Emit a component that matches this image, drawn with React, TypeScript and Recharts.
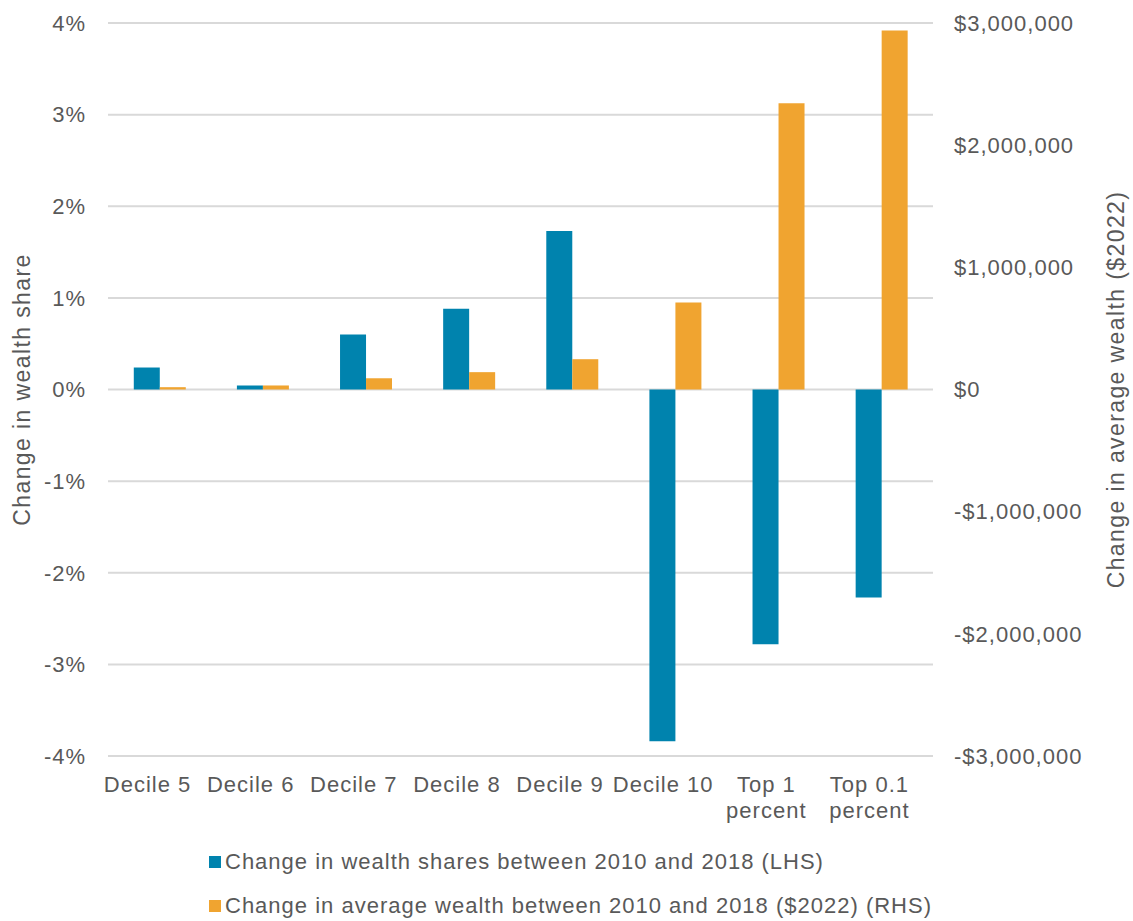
import React from "react";
import { ComposedChart, Bar, XAxis, YAxis, CartesianGrid } from "recharts";

const categories = ["Decile 5", "Decile 6", "Decile 7", "Decile 8", "Decile 9", "Decile 10", "Top 1 percent", "Top 0.1 percent"];
const shareChange = [0.24, 0.045, 0.6, 0.88, 1.73, -3.84, -2.78, -2.27];
const avgWealthChange = [19000, 33000, 92000, 142000, 248000, 712000, 2344000, 2939000];
const leftTicks = [-4, -3, -2, -1, 0, 1, 2, 3, 4];
const rightTicks = [-3000000, -2000000, -1000000, 0, 1000000, 2000000, 3000000];

const seriesNames = [
  "Change in wealth shares between 2010 and 2018 (LHS)",
  "Change in average wealth between 2010 and 2018 ($2022) (RHS)",
];
const leftTitle = "Change in wealth share";
const rightTitle = "Change in average wealth ($2022)";

const BLUE = "#0083ae";
const ORANGE = "#f0a430";
const TEXT = "#595959";
const FONT = "'Liberation Sans', Arial, sans-serif";
const FS = 22;
const LS = 1;

const data = categories.map((c, i) => ({ name: c, share: shareChange[i], wealth: avgWealthChange[i] }));

const fmtMoney = (v: number) => {
  const s = "$" + Math.abs(v).toLocaleString("en-US");
  return v < 0 ? "-" + s : s;
};

const splitLabel = (s: string): string[] => {
  if (s.length <= 10) return [s];
  const i = s.lastIndexOf(" ");
  return [s.slice(0, i), s.slice(i + 1)];
};

const XTick = (props: any) => {
  const { x, y, payload } = props;
  const lines = splitLabel(String(payload.value));
  const tx = x - 12;
  return (
    <text x={tx} y={y} textAnchor="middle" fill={TEXT} fontSize={FS} fontFamily={FONT} letterSpacing={LS}>
      {lines.map((l, i) => (
        <tspan key={i} x={tx} y={y + 34 + i * 26}>
          {l}
        </tspan>
      ))}
    </text>
  );
};

const YLabel = (title: string, dxFromBox: number) => (props: any) => {
  const vb = props.viewBox;
  const cx = vb.x + dxFromBox;
  const cy = vb.y + vb.height / 2;
  return (
    <text
      x={cx}
      y={cy}
      transform={`rotate(-90 ${cx} ${cy})`}
      textAnchor="middle"
      dominantBaseline="central"
      fill={TEXT}
      fontSize={23}
      fontFamily={FONT}
      letterSpacing={1.4}
    >
      {title}
    </text>
  );
};

export default function App() {
  return (
    <div style={{ position: "absolute", left: 0, top: 0, width: 1133, height: 921, background: "#fff" }}>
      <ComposedChart
        width={1133}
        height={921}
        data={data}
        margin={{ top: 23, right: 0, bottom: 85, left: 0 }}
        barCategoryGap="25%"
        barGap={0}
      >
        <CartesianGrid vertical={false} stroke="#d9d9d9" strokeWidth={2} yAxisId="left" />
        <XAxis dataKey="name" axisLine={false} tickLine={false} tickSize={0} height={80} tick={<XTick />} interval={0} />
        <YAxis
          yAxisId="left"
          orientation="left"
          domain={[-4, 4]}
          ticks={leftTicks}
          interval={0}
          width={108}
          axisLine={false}
          tickLine={false}
          tickSize={0}
          tickMargin={22}
          tickFormatter={(v: number) => `${v}%`}
          tick={{ fill: TEXT, fontSize: FS, fontFamily: FONT, letterSpacing: LS }}
          label={{ content: YLabel(leftTitle, 22) as any }}
        />
        <YAxis
          yAxisId="right"
          orientation="right"
          domain={[-3000000, 3000000]}
          ticks={rightTicks}
          interval={0}
          width={200}
          axisLine={false}
          tickLine={false}
          tickSize={0}
          tickMargin={21}
          tickFormatter={fmtMoney}
          tick={{ fill: TEXT, fontSize: FS, fontFamily: FONT, letterSpacing: LS }}
          label={{ content: YLabel(rightTitle, 183) as any }}
        />
        <Bar yAxisId="left" dataKey="share" name={seriesNames[0]} fill={BLUE} isAnimationActive={false} />
        <Bar yAxisId="right" dataKey="wealth" name={seriesNames[1]} fill={ORANGE} isAnimationActive={false} />
      </ComposedChart>
      <div style={{ position: "absolute", left: 209, top: 840, fontFamily: FONT, fontSize: FS, letterSpacing: LS, color: TEXT }}>
        {seriesNames.map((n, i) => (
          <div key={n} style={{ display: "flex", alignItems: "center", height: 44, whiteSpace: "nowrap" }}>
            <span style={{ display: "inline-block", width: 12, height: 12, background: i === 0 ? BLUE : ORANGE, marginRight: 4 }} />
            <span>{n}</span>
          </div>
        ))}
      </div>
    </div>
  );
}
